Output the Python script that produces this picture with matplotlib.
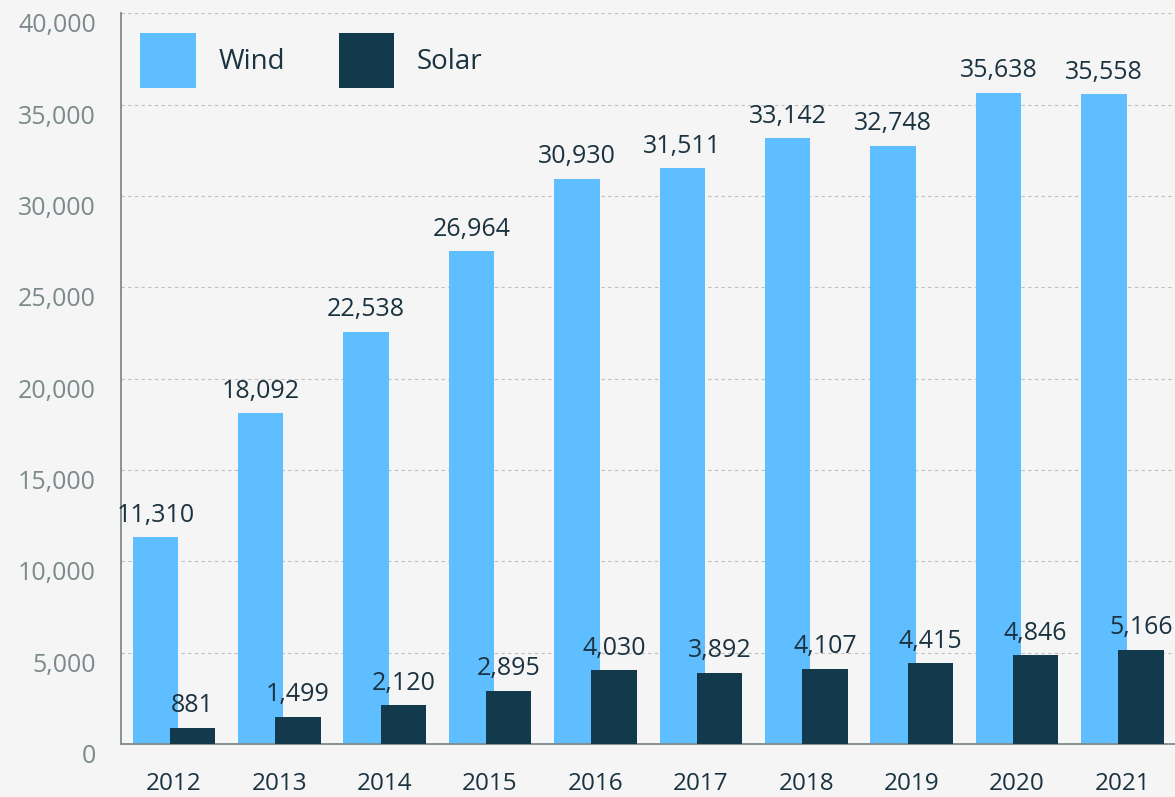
import matplotlib
matplotlib.use("Agg")
import matplotlib.pyplot as plt
import numpy as np

years = ["2012", "2013", "2014", "2015", "2016", "2017", "2018", "2019", "2020", "2021"]
wind = [11310, 18092, 22538, 26964, 30930, 31511, 33142, 32748, 35638, 35558]
solar = [881, 1499, 2120, 2895, 4030, 3892, 4107, 4415, 4846, 5166]

WIND_C = "#5EBEFF"
SOLAR_C = "#12394C"
TEXT_C = "#1B3340"
GREY_C = "#7D8A8C"
BG = "#F5F5F5"

plt.rcParams["font.family"] = ["Open Sans", "DejaVu Sans"]

fig = plt.figure(figsize=(11.75, 7.97), dpi=100, facecolor=BG)
ax = fig.add_axes([0.103, 0.0665, 0.897, 0.917], facecolor=BG)

x = np.arange(len(years))
w = 0.43
bw = ax.bar(x - 0.175, wind, w, color=WIND_C, label="Wind", zorder=2)
bs = ax.bar(x + 0.178, solar, w, color=SOLAR_C, label="Solar", zorder=3)

# value labels above each bar
for bars, vals in ((bw, wind), (bs, solar)):
    for rect, v in zip(bars, vals):
        ax.annotate("{:,}".format(v), (rect.get_x() + rect.get_width() / 2, v),
                    xytext=(0, 7), textcoords="offset points", ha="center",
                    va="bottom", fontsize=18, color=TEXT_C, zorder=4)

ax.set_xlim(-0.5, len(years) - 0.5)
ax.set_ylim(0, 40000)
ax.set_yticks(np.arange(0, 40001, 5000))
ax.set_yticklabels(["{:,}".format(t) for t in range(0, 40001, 5000)])
ax.set_xticks(x)
ax.set_xticklabels(years)
ax.tick_params(axis="y", length=0, pad=18, labelsize=18, labelcolor=GREY_C)
ax.tick_params(axis="x", length=0, pad=20, labelsize=17.5, labelcolor=TEXT_C)
for lab in ax.get_yticklabels():
    lab.set_verticalalignment("top")

ax.grid(axis="y", color="#BFBFBF", linestyle=(0, (3, 3)), linewidth=0.8, zorder=0)
for s in ("top", "right"):
    ax.spines[s].set_visible(False)
for s in ("left", "bottom"):
    ax.spines[s].set_color(GREY_C)
    ax.spines[s].set_linewidth(1.3)

ax.legend(loc="upper left", bbox_to_anchor=(0.0, 1.0), ncol=2, frameon=False,
          fontsize=20, handlelength=2.0, handleheight=2.7, handletextpad=0.8,
          columnspacing=1.95, labelcolor=TEXT_C, borderaxespad=0.3)

fig.savefig("out.png", dpi=100, facecolor=BG)
